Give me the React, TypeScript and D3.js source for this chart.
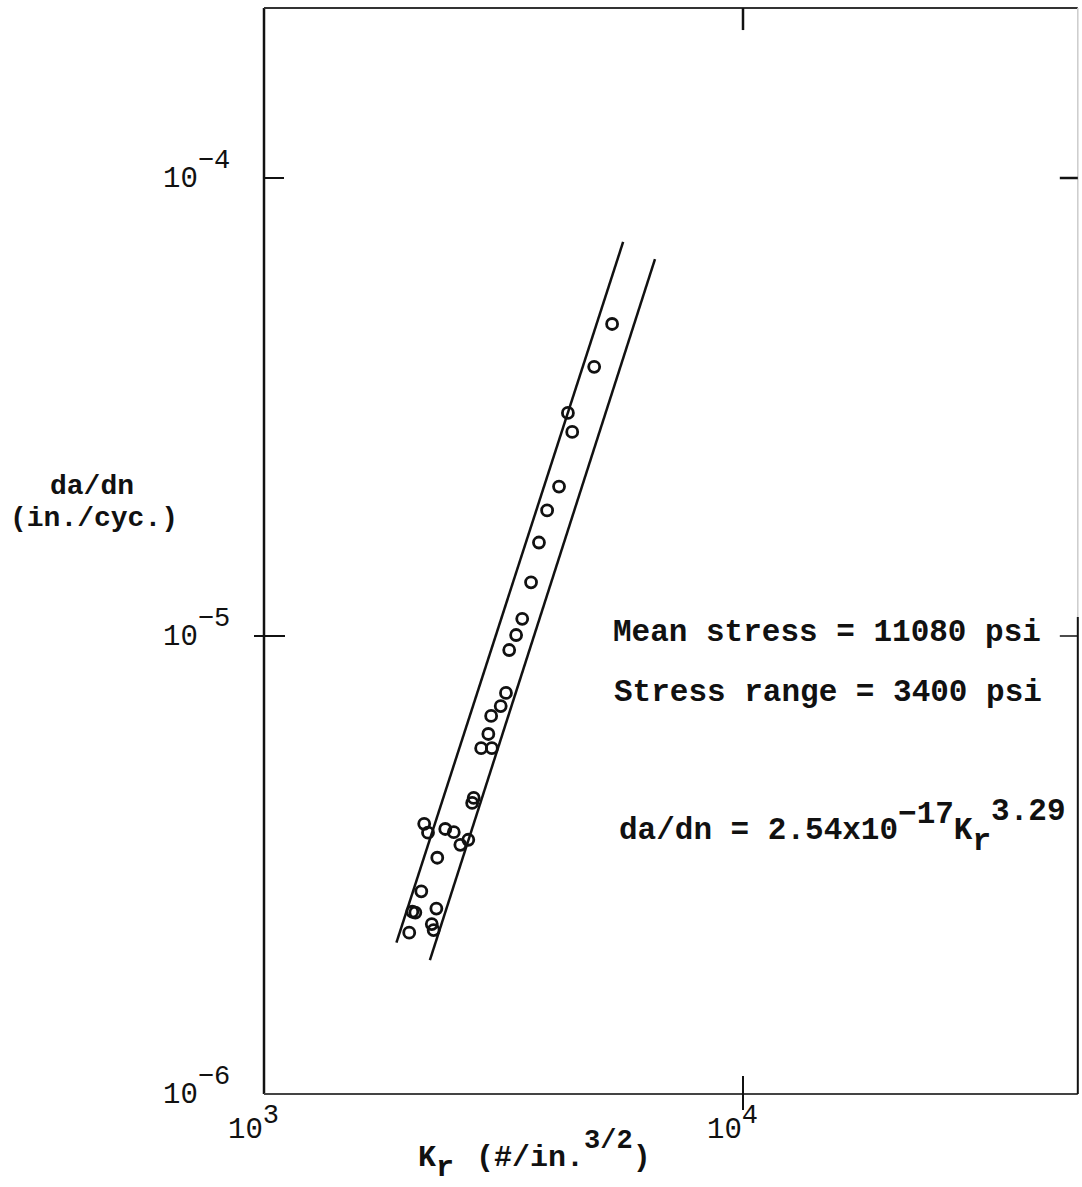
import React from "react";
import * as d3 from "d3";

// Stress-intensity range K_r (#/in.^3/2) and crack growth rate da/dn (in./cyc.)
const kr = [
  5330, 4890, 4310, 4400, 4130, 3900, 3750, 3610, 3460, 3360, 3250,
  3200, 3120, 2980, 2940, 2840, 2990, 2740, 2720, 2160, 2200, 2390,
  2490, 2670, 2570, 2300, 2130, 2040, 2070, 2290, 2240, 2260, 2010,
];
const dadn = [
  4.8e-5, 3.87e-5, 3.07e-5, 2.79e-5, 2.12e-5, 1.88e-5, 1.6e-5, 1.31e-5,
  1.09e-5, 1.005e-5, 9.32e-6, 7.51e-6, 7.03e-6, 6.69e-6, 6.11e-6, 5.69e-6,
  5.69e-6, 4.43e-6, 4.32e-6, 3.89e-6, 3.72e-6, 3.79e-6, 3.73e-6, 3.59e-6,
  3.5e-6, 3.28e-6, 2.77e-6, 2.5e-6, 2.49e-6, 2.54e-6, 2.35e-6, 2.28e-6,
  2.25e-6,
];

// Scatter band limits (endpoints of the two bounding lines)
const upperBandK = [1890, 5620];
const upperBandRate = [2.14e-6, 7.25e-5];
const lowerBandK = [2220, 6550];
const lowerBandRate = [1.96e-6, 6.65e-5];

// Axis decades and frame extent
const xTicks = [1e3, 1e4];
const xTickExp = ["3", "4"];
const yTicks = [1e-6, 1e-5, 1e-4];
const yTickExp = ["\u22126", "\u22125", "\u22124"];
const xMax = 5e4;
const yMax = 2.35e-4;

const FONT = "'Liberation Mono', 'DejaVu Sans Mono', monospace";

export default function App() {
  const x = d3.scaleLog().domain([1e3, 1e4]).range([264, 743]);
  const y = d3.scaleLog().domain([1e-6, 1e-4]).range([1094, 178]);

  const x0 = x(1e3);
  const x1 = x(xMax);
  const y0 = y(1e-6);
  const y1 = y(yMax);

  const line = d3
    .line<[number, number]>()
    .x((d) => x(d[0]))
    .y((d) => y(d[1]));

  const upper: [number, number][] = upperBandK.map((k, i) => [k, upperBandRate[i]]);
  const lower: [number, number][] = lowerBandK.map((k, i) => [k, lowerBandRate[i]]);

  const ink = "#111";

  return (
    <svg
      width={1082}
      height={1187}
      style={{ position: "absolute", left: 0, top: 0, background: "#fff" }}
      fontFamily={FONT}
      fontWeight="bold"
    >
      <rect x={0} y={0} width={1082} height={1187} fill="#fff" />

      {/* frame */}
      <line x1={x0} y1={y1} x2={x0} y2={y0} stroke={ink} strokeWidth={2.5} />
      <line x1={x0} y1={y0} x2={x1} y2={y0} stroke="#444" strokeWidth={2} />
      <line x1={x0} y1={y1} x2={x1} y2={y1} stroke="#333" strokeWidth={2} />
      <line x1={x1} y1={y1} x2={x1} y2={y(1.1e-5)} stroke="#ccc" strokeWidth={1.5} />
      <line x1={x1} y1={y(1.1e-5)} x2={x1} y2={y0} stroke={ink} strokeWidth={2} />

      {/* y ticks */}
      <line x1={x0} y1={y(1e-4)} x2={x0 + 20} y2={y(1e-4)} stroke={ink} strokeWidth={2} />
      <line x1={x0 - 10} y1={y(1e-5)} x2={x0 + 21} y2={y(1e-5)} stroke={ink} strokeWidth={2} />
      <line x1={x1 - 18} y1={y(1e-4)} x2={x1} y2={y(1e-4)} stroke={ink} strokeWidth={2.5} />
      <line x1={x1 - 18} y1={y(1e-5)} x2={x1} y2={y(1e-5)} stroke={ink} strokeWidth={1.5} />

      {/* x ticks */}
      <line x1={x(1e4)} y1={y0 - 18} x2={x(1e4)} y2={y0 + 16} stroke={ink} strokeWidth={2} />
      <line x1={x(1e4)} y1={y1} x2={x(1e4)} y2={y1 + 22} stroke={ink} strokeWidth={2.5} />

      {/* y tick labels */}
      {yTicks.map((t, i) => (
        <text key={"yt" + i} x={163} y={y(t) + 9} fontSize={29} fontWeight="normal" fill={ink}>
          10
          <tspan dy={-19} fontSize={27}>{yTickExp[i]}</tspan>
        </text>
      ))}

      {/* x tick labels */}
      {xTicks.map((t, i) => (
        <text key={"xt" + i} x={x(t) - 36} y={1138} fontSize={29} fontWeight="normal" fill={ink}>
          10
          <tspan dy={-15} fontSize={27}>{xTickExp[i]}</tspan>
        </text>
      ))}

      {/* axis titles */}
      <text x={92} y={494} fontSize={28} textAnchor="middle" fill={ink}>
        da/dn
      </text>
      <text x={94} y={526} fontSize={28} textAnchor="middle" fill={ink}>
        (in./cyc.)
      </text>

      <text x={418} y={1166} fontSize={30} fill={ink}>
        K
        <tspan dy={10}>r</tspan>
        <tspan dy={-10} dx={22}>(#/in.</tspan>
        <tspan dy={-18} fontSize={27}>3/2</tspan>
        <tspan dy={18}>)</tspan>
      </text>

      {/* annotations */}
      <text x={613} y={641} fontSize={31} fill={ink}>
        Mean stress = 11080 psi
      </text>
      <text x={614} y={701} fontSize={31} fill={ink}>
        Stress range = 3400 psi
      </text>
      <text x={619} y={839} fontSize={31} fill={ink}>
        da/dn = 2.54x10
        <tspan dy={-16}>{"\u221217"}</tspan>
        <tspan dy={16}>K</tspan>
        <tspan dy={11}>r</tspan>
        <tspan dy={-30}>3.29</tspan>
      </text>

      {/* scatter band */}
      <path d={line(upper) || ""} fill="none" stroke={ink} strokeWidth={2.5} />
      <path d={line(lower) || ""} fill="none" stroke={ink} strokeWidth={2.5} />

      {/* data points */}
      {kr.map((k, i) => (
        <circle
          key={"p" + i}
          cx={x(k)}
          cy={y(dadn[i])}
          r={5.5}
          fill="none"
          stroke={ink}
          strokeWidth={2.8}
        />
      ))}
    </svg>
  );
}
